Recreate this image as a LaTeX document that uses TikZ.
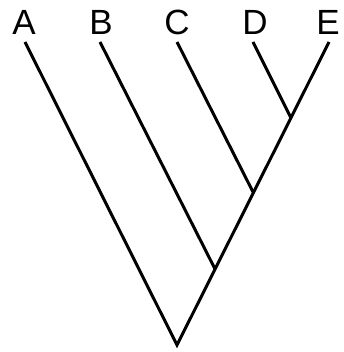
\documentclass[tikz,border=0pt]{standalone}
\usepackage{fontspec}
\setmainfont{Liberation Sans}
\usetikzlibrary{positioning}

\begin{document}
\begin{tikzpicture}[
  x=1pt, y=-1pt,
  leaf/.style={anchor=base, inner sep=0pt, font=\fontsize{35}{40}\selectfont},
  branch/.style={draw=black, line width=3pt, line join=miter}]
\useasboundingbox (0,0) rectangle (343,352);
% tips of the branches and inner junctions
\coordinate (tA) at (25,42);
\coordinate (tB) at (100,42);
\coordinate (tC) at (177,42);
\coordinate (tD) at (253,42);
\coordinate (tE) at (329,42);
\coordinate (root) at (177,345);
\coordinate (jB) at (215,269);
\coordinate (jC) at (253,192);
\coordinate (jD) at (291,118);
% taxa
\node[leaf] (A) at (24,35)  {A};
\node[leaf] (B) at (101,35) {B};
\node[leaf] (C) at (177,35) {C};
\node[leaf] (D) at (255,35) {D};
\node[leaf] (E) at (328,35) {E};
% tree
\draw[branch] (tA) -- (root) -- (tE);
\draw[branch] (tB) -- (jB);
\draw[branch] (tC) -- (jC);
\draw[branch] (tD) -- (jD);
\end{tikzpicture}
\end{document}
